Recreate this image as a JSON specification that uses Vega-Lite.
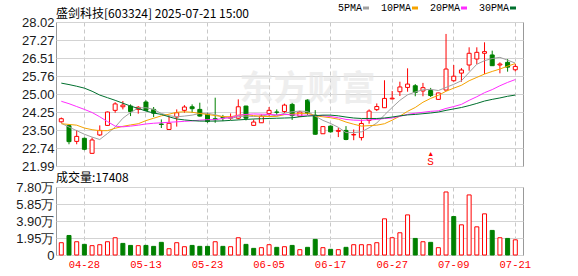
{
  "$schema": "https://vega.github.io/schema/vega-lite/v6.json",
  "padding": {"left": 0, "top": 3, "right": 0, "bottom": 0},
  "background": "white",
  "spacing": 21,
  "bounds": "flush",
  "config": {
    "view": {"stroke": "#999999", "strokeWidth": 1},
    "axis": {"ticks": false, "domain": false, "title": null, "labelFont": "Liberation Sans", "labelFontSize": 13, "labelColor": "#1a1a1a", "gridColor": "#d3d3d3", "labelOverlap": false, "labelFlush": false}
  },
  "datasets": {
    "k": [
      {"d":"04-23","o":23.84,"h":24.02,"l":23.80,"c":23.97,"v":1.41,"vu":1,"5PMA":23.78,"10PMA":23.76,"20PMA":24.70,"30PMA":25.46},
      {"d":"04-24","o":23.68,"h":23.74,"l":22.90,"c":23.01,"v":2.24,"vu":0,"5PMA":23.62,"10PMA":23.73,"20PMA":24.60,"30PMA":25.40},
      {"d":"04-25","o":23.02,"h":23.50,"l":22.90,"c":23.23,"v":1.52,"vu":1,"5PMA":23.47,"10PMA":23.70,"20PMA":24.48,"30PMA":25.33},
      {"d":"04-28","o":23.15,"h":23.18,"l":22.65,"c":22.69,"v":1.22,"vu":0,"5PMA":23.32,"10PMA":23.58,"20PMA":24.36,"30PMA":25.25},
      {"d":"04-29","o":22.52,"h":23.18,"l":22.50,"c":23.08,"v":1.07,"vu":1,"5PMA":23.20,"10PMA":23.51,"20PMA":24.23,"30PMA":25.12},
      {"d":"04-30","o":23.29,"h":23.69,"l":23.25,"c":23.48,"v":1.18,"vu":1,"5PMA":23.10,"10PMA":23.47,"20PMA":24.05,"30PMA":24.96},
      {"d":"05-06","o":23.69,"h":24.27,"l":23.67,"c":24.25,"v":1.52,"vu":1,"5PMA":23.35,"10PMA":23.47,"20PMA":23.85,"30PMA":24.85},
      {"d":"05-07","o":24.32,"h":24.66,"l":24.22,"c":24.59,"v":1.98,"vu":1,"5PMA":23.62,"10PMA":23.57,"20PMA":23.66,"30PMA":24.74},
      {"d":"05-08","o":24.47,"h":24.71,"l":24.36,"c":24.54,"v":1.33,"vu":0,"5PMA":23.99,"10PMA":23.65,"20PMA":23.63,"30PMA":24.62},
      {"d":"05-09","o":24.50,"h":24.57,"l":24.08,"c":24.27,"v":1.10,"vu":0,"5PMA":24.23,"10PMA":23.71,"20PMA":23.66,"30PMA":24.50},
      {"d":"05-12","o":24.36,"h":24.50,"l":24.18,"c":24.45,"v":1.07,"vu":1,"5PMA":24.42,"10PMA":23.76,"20PMA":23.70,"30PMA":24.40},
      {"d":"05-13","o":24.67,"h":24.74,"l":24.29,"c":24.32,"v":1.10,"vu":0,"5PMA":24.43,"10PMA":23.89,"20PMA":23.75,"30PMA":24.29},
      {"d":"05-14","o":24.36,"h":24.46,"l":24.04,"c":24.20,"v":0.99,"vu":0,"5PMA":24.36,"10PMA":23.99,"20PMA":23.78,"30PMA":24.21},
      {"d":"05-15","o":23.75,"h":23.94,"l":23.58,"c":23.73,"v":1.45,"vu":0,"5PMA":24.19,"10PMA":24.09,"20PMA":23.80,"30PMA":24.15},
      {"d":"05-16","o":23.52,"h":24.08,"l":23.51,"c":23.78,"v":0.72,"vu":1,"5PMA":24.10,"10PMA":24.16,"20PMA":23.82,"30PMA":24.05},
      {"d":"05-19","o":24.04,"h":24.36,"l":23.64,"c":24.22,"v":1.41,"vu":1,"5PMA":24.05,"10PMA":24.24,"20PMA":23.84,"30PMA":23.96},
      {"d":"05-20","o":24.32,"h":24.54,"l":24.22,"c":24.46,"v":0.95,"vu":1,"5PMA":24.08,"10PMA":24.26,"20PMA":23.86,"30PMA":23.92},
      {"d":"05-21","o":24.47,"h":24.57,"l":24.22,"c":24.39,"v":1.10,"vu":0,"5PMA":24.12,"10PMA":24.24,"20PMA":23.88,"30PMA":23.89},
      {"d":"05-22","o":24.36,"h":24.64,"l":24.06,"c":24.08,"v":0.99,"vu":0,"5PMA":24.19,"10PMA":24.19,"20PMA":23.91,"30PMA":23.87},
      {"d":"05-23","o":24.15,"h":24.22,"l":23.80,"c":23.85,"v":0.99,"vu":0,"5PMA":24.20,"10PMA":24.15,"20PMA":23.93,"30PMA":23.87},
      {"d":"05-26","o":23.97,"h":24.85,"l":23.80,"c":23.93,"v":1.52,"vu":1,"5PMA":24.14,"10PMA":24.10,"20PMA":23.93,"30PMA":23.87},
      {"d":"05-27","o":24.02,"h":24.13,"l":23.87,"c":24.00,"v":0.99,"vu":0,"5PMA":24.05,"10PMA":24.06,"20PMA":23.98,"30PMA":23.88},
      {"d":"05-28","o":23.99,"h":24.19,"l":23.92,"c":24.03,"v":0.95,"vu":1,"5PMA":23.98,"10PMA":24.05,"20PMA":24.02,"30PMA":23.90},
      {"d":"05-29","o":23.99,"h":24.78,"l":23.94,"c":24.47,"v":1.98,"vu":1,"5PMA":24.06,"10PMA":24.12,"20PMA":24.11,"30PMA":23.92},
      {"d":"05-30","o":24.50,"h":24.51,"l":23.90,"c":23.99,"v":1.22,"vu":0,"5PMA":24.08,"10PMA":24.14,"20PMA":24.15,"30PMA":23.94},
      {"d":"06-03","o":23.69,"h":23.94,"l":23.68,"c":23.83,"v":0.76,"vu":0,"5PMA":24.06,"10PMA":24.10,"20PMA":24.17,"30PMA":23.96},
      {"d":"06-04","o":23.80,"h":24.15,"l":23.79,"c":24.08,"v":0.84,"vu":1,"5PMA":24.08,"10PMA":24.07,"20PMA":24.16,"30PMA":23.97},
      {"d":"06-05","o":24.18,"h":24.46,"l":24.08,"c":24.32,"v":1.18,"vu":1,"5PMA":24.14,"10PMA":24.06,"20PMA":24.15,"30PMA":23.98},
      {"d":"06-06","o":24.25,"h":24.36,"l":24.13,"c":24.24,"v":0.88,"vu":0,"5PMA":24.09,"10PMA":24.07,"20PMA":24.13,"30PMA":23.99},
      {"d":"06-09","o":24.27,"h":24.60,"l":24.20,"c":24.54,"v":0.95,"vu":1,"5PMA":24.20,"10PMA":24.14,"20PMA":24.15,"30PMA":24.00},
      {"d":"06-10","o":24.57,"h":24.64,"l":23.92,"c":24.10,"v":1.10,"vu":0,"5PMA":24.26,"10PMA":24.16,"20PMA":24.13,"30PMA":24.01},
      {"d":"06-11","o":24.07,"h":24.30,"l":24.05,"c":24.25,"v":0.61,"vu":1,"5PMA":24.29,"10PMA":24.19,"20PMA":24.12,"30PMA":24.05},
      {"d":"06-12","o":24.75,"h":24.78,"l":24.13,"c":24.20,"v":0.88,"vu":0,"5PMA":24.27,"10PMA":24.20,"20PMA":24.12,"30PMA":24.08},
      {"d":"06-13","o":24.12,"h":24.33,"l":23.30,"c":23.32,"v":1.79,"vu":0,"5PMA":24.08,"10PMA":24.09,"20PMA":24.10,"30PMA":24.10},
      {"d":"06-16","o":23.34,"h":23.65,"l":23.33,"c":23.64,"v":0.84,"vu":1,"5PMA":23.90,"10PMA":24.05,"20PMA":24.10,"30PMA":24.12},
      {"d":"06-17","o":23.66,"h":23.69,"l":23.39,"c":23.42,"v":0.65,"vu":0,"5PMA":23.77,"10PMA":24.01,"20PMA":24.06,"30PMA":24.12},
      {"d":"06-18","o":23.44,"h":23.59,"l":23.20,"c":23.48,"v":0.61,"vu":1,"5PMA":23.61,"10PMA":23.95,"20PMA":24.01,"30PMA":24.09},
      {"d":"06-19","o":23.48,"h":23.66,"l":23.07,"c":23.10,"v":0.88,"vu":0,"5PMA":23.39,"10PMA":23.83,"20PMA":23.94,"30PMA":24.04},
      {"d":"06-20","o":23.29,"h":23.52,"l":23.07,"c":23.31,"v":1.18,"vu":1,"5PMA":23.39,"10PMA":23.74,"20PMA":23.91,"30PMA":24.00},
      {"d":"06-23","o":23.18,"h":23.94,"l":23.06,"c":23.77,"v":1.18,"vu":1,"5PMA":23.42,"10PMA":23.66,"20PMA":23.90,"30PMA":23.98},
      {"d":"06-24","o":23.90,"h":24.36,"l":23.76,"c":24.29,"v":1.18,"vu":1,"5PMA":23.59,"10PMA":23.68,"20PMA":23.92,"30PMA":23.98},
      {"d":"06-25","o":24.35,"h":24.61,"l":24.29,"c":24.48,"v":1.41,"vu":1,"5PMA":23.79,"10PMA":23.70,"20PMA":23.94,"30PMA":23.98},
      {"d":"06-26","o":24.43,"h":25.58,"l":24.42,"c":24.82,"v":4.15,"vu":1,"5PMA":24.13,"10PMA":23.76,"20PMA":23.98,"30PMA":24.00},
      {"d":"06-27","o":24.80,"h":25.13,"l":24.78,"c":24.83,"v":1.98,"vu":1,"5PMA":24.44,"10PMA":23.91,"20PMA":24.00,"30PMA":24.04},
      {"d":"06-30","o":25.10,"h":25.52,"l":24.92,"c":25.30,"v":2.55,"vu":1,"5PMA":24.74,"10PMA":24.08,"20PMA":24.07,"30PMA":24.09},
      {"d":"07-01","o":25.28,"h":26.08,"l":25.10,"c":25.42,"v":4.60,"vu":1,"5PMA":24.97,"10PMA":24.28,"20PMA":24.15,"30PMA":24.13},
      {"d":"07-02","o":25.35,"h":25.42,"l":24.91,"c":25.07,"v":1.90,"vu":0,"5PMA":25.09,"10PMA":24.44,"20PMA":24.20,"30PMA":24.15},
      {"d":"07-03","o":25.13,"h":25.47,"l":24.91,"c":25.27,"v":1.52,"vu":1,"5PMA":25.18,"10PMA":24.66,"20PMA":24.24,"30PMA":24.18},
      {"d":"07-04","o":25.15,"h":25.26,"l":24.88,"c":24.94,"v":1.45,"vu":0,"5PMA":25.20,"10PMA":24.82,"20PMA":24.28,"30PMA":24.21},
      {"d":"07-07","o":24.78,"h":25.06,"l":24.77,"c":25.05,"v":0.84,"vu":1,"5PMA":25.15,"10PMA":24.95,"20PMA":24.30,"30PMA":24.25},
      {"d":"07-08","o":25.17,"h":27.52,"l":25.15,"c":26.05,"v":7.23,"vu":1,"5PMA":25.28,"10PMA":25.12,"20PMA":24.40,"30PMA":24.32},
      {"d":"07-09","o":25.56,"h":26.22,"l":25.52,"c":25.75,"v":4.41,"vu":0,"5PMA":25.41,"10PMA":25.25,"20PMA":24.48,"30PMA":24.38},
      {"d":"07-10","o":25.88,"h":26.09,"l":25.52,"c":26.01,"v":3.46,"vu":1,"5PMA":25.56,"10PMA":25.37,"20PMA":24.57,"30PMA":24.44},
      {"d":"07-11","o":26.22,"h":26.96,"l":25.98,"c":26.71,"v":6.89,"vu":1,"5PMA":25.91,"10PMA":25.56,"20PMA":24.74,"30PMA":24.52},
      {"d":"07-14","o":26.47,"h":26.96,"l":26.26,"c":26.75,"v":3.23,"vu":1,"5PMA":26.25,"10PMA":25.70,"20PMA":24.89,"30PMA":24.61},
      {"d":"07-15","o":26.71,"h":27.17,"l":25.84,"c":26.78,"v":4.72,"vu":1,"5PMA":26.40,"10PMA":25.84,"20PMA":25.06,"30PMA":24.71},
      {"d":"07-16","o":26.64,"h":26.82,"l":26.18,"c":26.19,"v":2.82,"vu":0,"5PMA":26.49,"10PMA":25.95,"20PMA":25.19,"30PMA":24.78},
      {"d":"07-17","o":26.22,"h":26.33,"l":25.87,"c":26.26,"v":1.98,"vu":1,"5PMA":26.54,"10PMA":26.05,"20PMA":25.35,"30PMA":24.84},
      {"d":"07-18","o":26.33,"h":26.47,"l":25.94,"c":26.13,"v":1.90,"vu":0,"5PMA":26.42,"10PMA":26.17,"20PMA":25.49,"30PMA":24.91},
      {"d":"07-21","o":26.02,"h":26.26,"l":25.95,"c":26.16,"v":1.74,"vu":1,"5PMA":26.30,"10PMA":26.28,"20PMA":25.61,"30PMA":24.96}
    ],
    "sig": [{"d": "07-04", "t": "S"}],
    "wm": [{"t": "东方财富"}]
  },
  "vconcat": [
    {
      "width": 467,
      "height": 144,
      "title": {"text": "盛剑科技[603324] 2025-07-21 15:00", "anchor": "start", "frame": "group", "font": "Noto Sans CJK SC", "fontSize": 12, "fontWeight": "normal", "color": "#000000", "offset": -5},
      "data": {"name": "k"},
      "encoding": {
        "x": {"field": "d", "type": "ordinal", "scale": {"paddingInner": 0, "paddingOuter": 0.345, "align": 0.274},
              "axis": {"labels": false, "grid": true, "gridDash": [4, 3], "gridColor": "#c8c8c8", "tickCount": 8, "values": ["04-28","05-13","05-23","06-05","06-17","06-27","07-09","07-21"]}}
      },
      "layer": [
        {
          "mark": {"type": "rule", "strokeWidth": 1},
          "encoding": {
            "y": {"field": "l", "type": "quantitative", "scale": {"domain": [21.99, 28.02], "nice": false, "zero": false},
                  "axis": {"values": [21.99, 22.74375, 23.4975, 24.25125, 25.005, 25.75875, 26.5125, 27.26625, 28.02], "tickCount": 9, "format": ".2f", "grid": true, "labelOverlap": false, "labelPadding": 2, "minExtent": 55, "maxExtent": 55}},
            "y2": {"field": "h"},
            "color": {"condition": {"test": "datum.c >= datum.o", "value": "#ff0000"}, "value": "#008000"}
          }
        },
        {
          "mark": {"type": "bar", "width": 4, "strokeWidth": 1},
          "encoding": {
            "y": {"field": "o", "type": "quantitative",
                  "axis": {"values": [21.99, 22.74375, 23.4975, 24.25125, 25.005, 25.75875, 26.5125, 27.26625, 28.02], "tickCount": 9, "format": ".2f", "grid": true, "labelOverlap": false, "labelPadding": 2, "minExtent": 55, "maxExtent": 55}},
            "y2": {"field": "c"},
            "fill": {"condition": {"test": "datum.c >= datum.o", "value": "#ffffff"}, "value": "#008000"},
            "stroke": {"condition": {"test": "datum.c >= datum.o", "value": "#ff0000"}, "value": "#008000"}
          }
        },
        {
          "transform": [{"fold": ["5PMA", "10PMA", "20PMA", "30PMA"], "as": ["key", "val"]}],
          "mark": {"type": "line", "strokeWidth": 1},
          "encoding": {
            "y": {"field": "val", "type": "quantitative",
                  "axis": {"values": [21.99, 22.74375, 23.4975, 24.25125, 25.005, 25.75875, 26.5125, 27.26625, 28.02], "tickCount": 9, "format": ".2f", "grid": true, "labelOverlap": false, "labelPadding": 2, "minExtent": 55, "maxExtent": 55}},
            "color": {"field": "key", "type": "nominal",
                      "scale": {"domain": ["5PMA", "10PMA", "20PMA", "30PMA"], "range": ["#a0a0a0", "#f5a300", "#ff2cff", "#00702e"]},
                      "legend": {"orient": "none", "legendX": 305, "legendY": -19, "direction": "horizontal", "title": null, "symbolType": "stroke", "symbolStrokeWidth": 3, "symbolSize": 36, "labelFont": "Liberation Mono", "labelFontSize": 10, "labelColor": "#000000", "labelAlign": "right", "labelOffset": -9, "columnPadding": 5, "padding": 0}}
          }
        },
        {
          "data": {"name": "wm"},
          "mark": {"type": "text", "font": "Noto Sans CJK SC", "fontSize": 34, "fontWeight": "bold", "color": "#e4e4e4", "opacity": 0.6, "align": "center", "baseline": "middle"},
          "encoding": {"x": {"datum": "06-12", "type": "ordinal"},
                       "y": {"datum": 25.17, "type": "quantitative", "axis": {"values": [21.99, 22.74375, 23.4975, 24.25125, 25.005, 25.75875, 26.5125, 27.26625, 28.02], "tickCount": 9, "format": ".2f", "grid": true, "labelOverlap": false, "labelPadding": 2, "minExtent": 55, "maxExtent": 55}},
                       "text": {"field": "t"}}
        },
        {
          "data": {"name": "sig"},
          "mark": {"type": "text", "color": "#ff0000", "font": "Liberation Sans", "fontSize": 7, "align": "center", "baseline": "middle"},
          "encoding": {"y": {"datum": 22.5, "type": "quantitative", "axis": {"values": [21.99, 22.74375, 23.4975, 24.25125, 25.005, 25.75875, 26.5125, 27.26625, 28.02], "tickCount": 9, "format": ".2f", "grid": true, "labelOverlap": false, "labelPadding": 2, "minExtent": 55, "maxExtent": 55}},
                       "text": {"value": "▲"}}
        },
        {
          "data": {"name": "sig"},
          "mark": {"type": "text", "color": "#ff0000", "font": "Liberation Mono", "fontSize": 11, "align": "center", "baseline": "middle"},
          "encoding": {"y": {"datum": 22.17, "type": "quantitative", "axis": {"values": [21.99, 22.74375, 23.4975, 24.25125, 25.005, 25.75875, 26.5125, 27.26625, 28.02], "tickCount": 9, "format": ".2f", "grid": true, "labelOverlap": false, "labelPadding": 2, "minExtent": 55, "maxExtent": 55}},
                       "text": {"field": "t"}}
        }
      ]
    },
    {
      "width": 467,
      "height": 68,
      "title": {"text": "成交量:17408", "anchor": "start", "frame": "group", "font": "Noto Sans CJK SC", "fontSize": 12, "fontWeight": "normal", "color": "#000000", "offset": -4},
      "data": {"name": "k"},
      "mark": {"type": "bar", "width": 4, "strokeWidth": 1},
      "encoding": {
        "x": {"field": "d", "type": "ordinal", "scale": {"paddingInner": 0, "paddingOuter": 0.345, "align": 0.274},
              "axis": {"grid": true, "gridDash": [4, 3], "gridColor": "#c8c8c8", "labelAngle": 0, "labelColor": "#ff0000", "labelFont": "Liberation Mono", "labelFontSize": 10.5, "labelPadding": 4, "values": ["04-28","05-13","05-23","06-05","06-17","06-27","07-09","07-21"]}},
        "y": {"field": "v", "type": "quantitative", "scale": {"domain": [0, 7.8], "nice": false},
              "axis": {"values": [0, 1.95, 3.9, 5.85, 7.8], "tickCount": 5, "labelExpr": "datum.value == 0 ? '0' : format(datum.value, '.2f') + '万'", "grid": true, "labelOverlap": false, "labelPadding": 2, "minExtent": 55, "maxExtent": 55}},
        "fill": {"condition": {"test": "datum.vu == 1", "value": "#ffffff"}, "value": "#008000"},
        "stroke": {"condition": {"test": "datum.vu == 1", "value": "#ff0000"}, "value": "#008000"}
      }
    }
  ]
}
